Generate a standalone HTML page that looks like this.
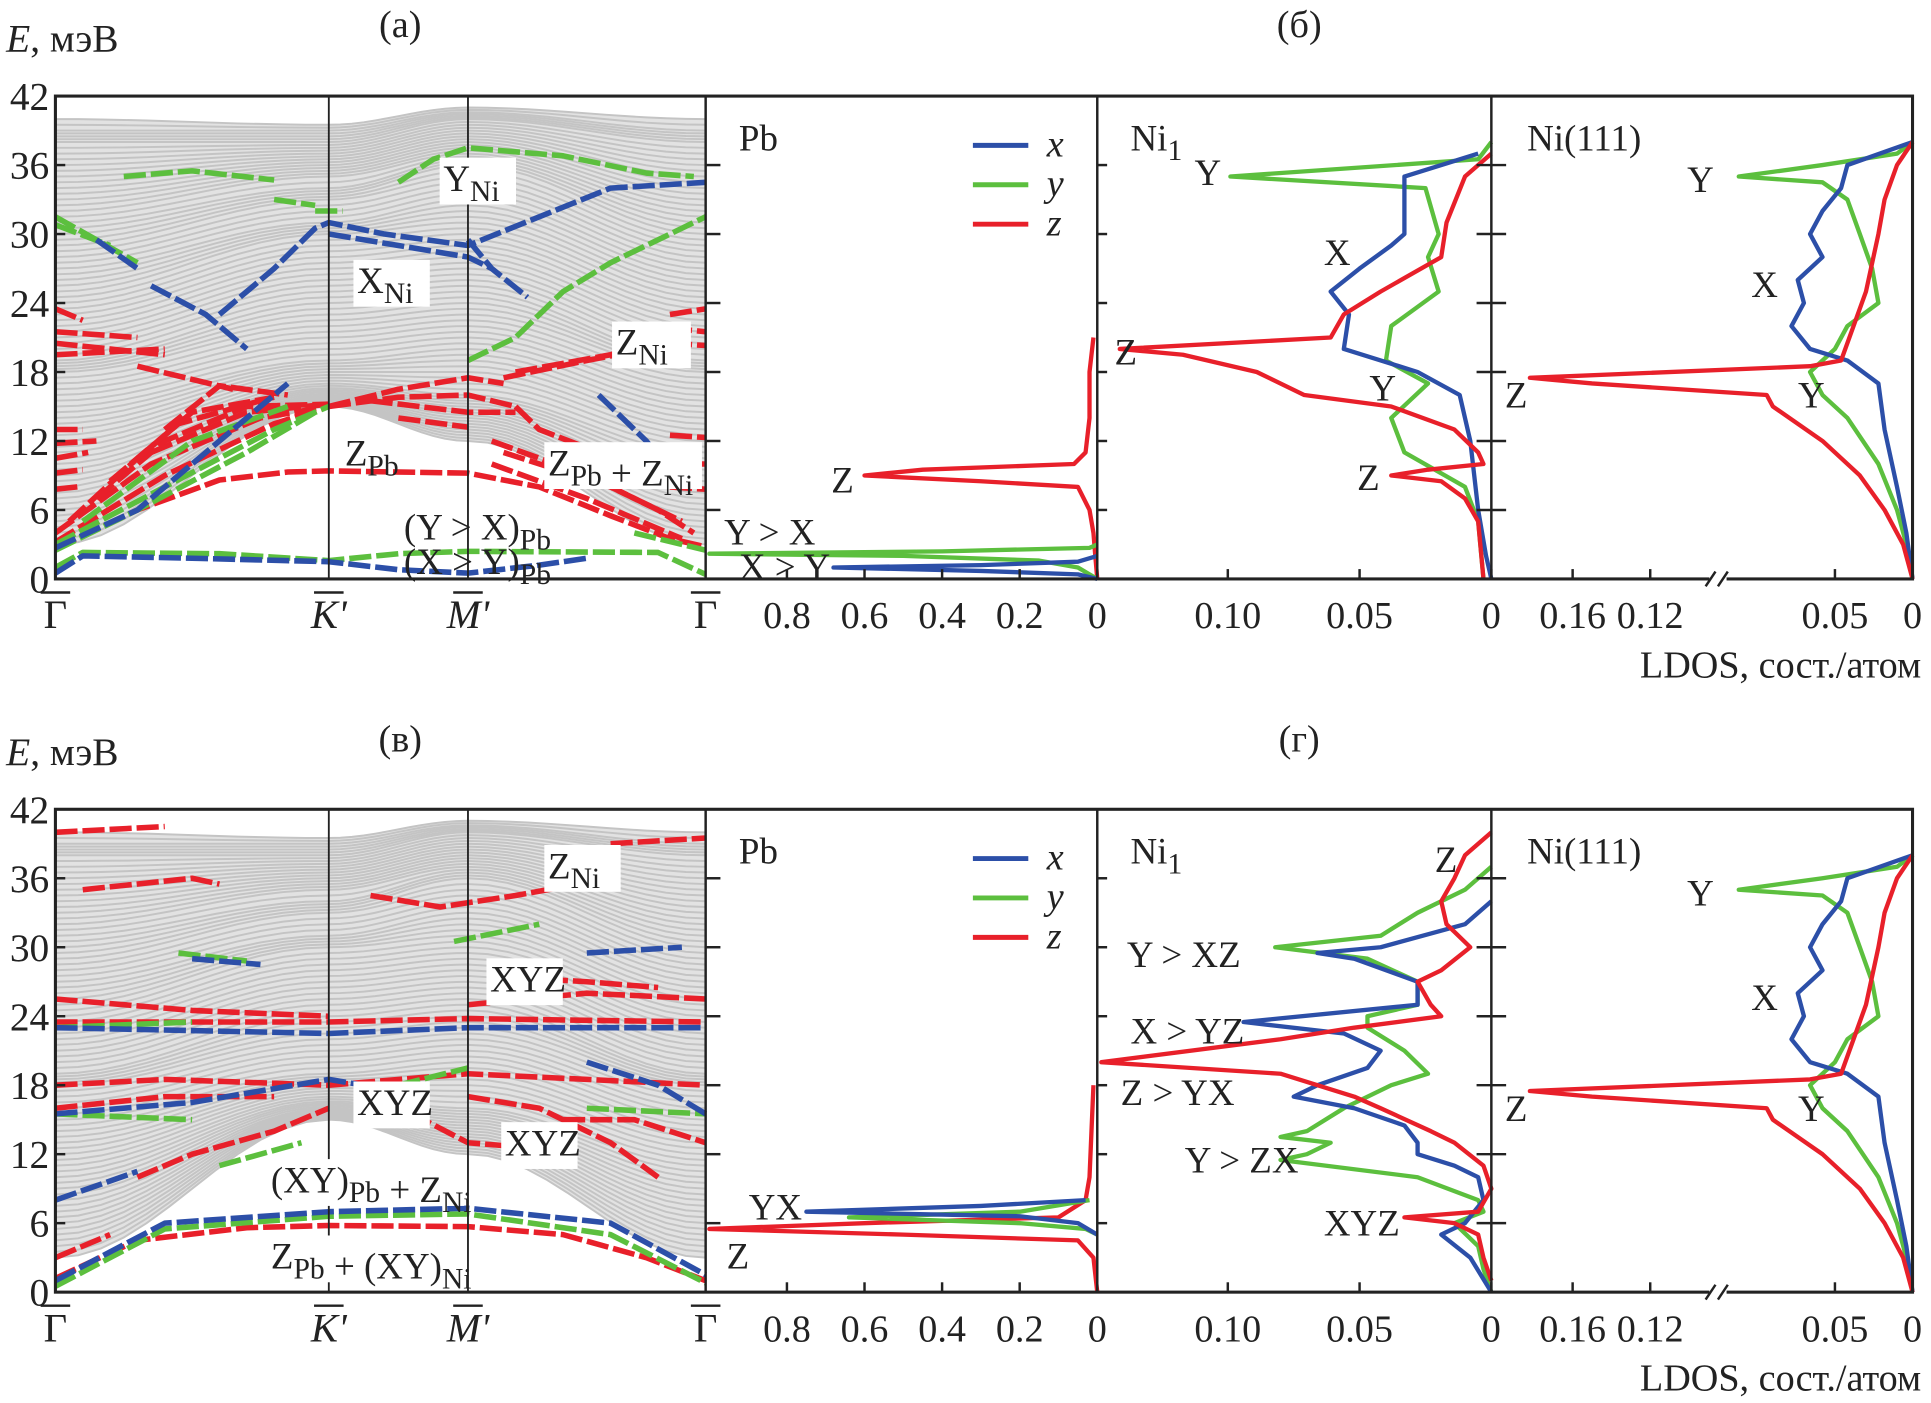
<!DOCTYPE html>
<html><head><meta charset="utf-8"><style>
html,body{margin:0;padding:0;background:#fff;}
svg{display:block;font-family:"Liberation Serif",serif;}
text{font-family:"Liberation Serif",serif;}
</style></head><body>
<svg id="fig" width="1931" height="1403" viewBox="0 0 1568 1139" preserveAspectRatio="none" xmlns="http://www.w3.org/2000/svg"></svg>
<script>
// ---- data ----
const eTicks = [0,6,12,18,24,30,36,42];
const bandsG = [3,4,5,6,7,8,9,10,11,12,13,14,15,16,17,18,18.5,19,20,21,22,23,24,25,26,27,28,29,30,31,32,33,34,35,36,37,38,38.5,39,40];
const bandsK = [15,15.2,15.4,15.6,15.8,16,16.3,16.6,17,17.5,18,18.5,19,20,21,22,23,24,25,26,27,28,29,30,30.5,31,32,33,33.5,34,35,35.5,36,36.5,37,37.5,38,38.5,39,39.5];
const bandsM = [12,12.5,13,13.5,14,14.5,15,15.5,16,17,18,19,20,21,22,23,24,25,26,27,28,29,30,31,32,33,34,35,36,36.5,37,37.5,38,38.5,39,39.5,40,40.3,40.6,41];

const redTop = [
 [[0,2.6],[0.3,6],[0.6,8.6],[0.85,9.3],[1,9.4],[2,9.2],[2.3,8],[2.6,5.5],[2.85,3.5],[3,2.8]],
 [[0,3.2],[0.4,9],[0.8,13.5],[1,15]],[[0,4],[0.35,10],[0.75,14],[1,15]],
 [[0.05,5],[0.3,10.5],[0.7,14.5],[1,15.2]],[[0.15,7],[0.4,12],[0.7,15],[1,15.2]],
 [[0.2,8.5],[0.45,13.5],[0.75,15.5]],[[0.3,10.5],[0.5,14.5],[0.8,15.8]],[[0.4,13],[0.6,16.8],[0.85,16]],
 [[0,13],[0.1,13]],[[0,11.8],[0.15,12]],[[0,10.5],[0.12,11]],[[0,9.2],[0.1,9.5]],[[0,7.8],[0.08,8]],
 [[0,23.5],[0.1,22.5]],[[0,21.5],[0.3,21]],[[0,20.5],[0.4,19.5]],[[0,19.5],[0.4,20]],[[0.3,18.5],[0.65,16.5]],
 [[1,15],[1.5,16.5],[2,17.5],[2.15,17]],[[1,15],[1.5,15.8],[2,16],[2.2,15]],[[1.3,15.5],[2,14.5],[2.2,14.5]],[[1.5,14],[2,13.2]],
 [[2.1,12],[2.5,9],[2.8,6],[2.95,4]],[[2.15,11],[2.6,8],[2.9,5]],[[2.1,10],[2.5,7],[2.9,3.5]],[[2.2,15],[2.3,13],[2.55,11],[2.8,8.5]],
 [[2.15,17.5],[2.5,19],[2.75,20]],[[2.2,18],[2.6,19.5],[2.75,20.5]],
 [[2.85,21.8],[3,21.5]],[[2.85,20.5],[3,20.3]],[[2.85,23],[3,23.5]],[[2.85,12.5],[3,12.3]],[[2.85,10],[3,10]],[[2.85,8],[3,7.8]]
];
const greenTop = [
 [[0,1],[0.1,2.3],[0.6,2.2],[1,1.6],[1.5,2.2],[2,2.4],[2.8,2.3],[3,0.4]],
 [[0,3],[0.4,8],[0.8,13],[1,15]],[[0.1,5],[0.5,12],[0.85,15]],[[0,2.5],[0.3,6],[0.7,11],[0.95,14.5]],
 [[0.25,35],[0.5,35.5],[0.8,34.7]],[[1.5,34.5],[1.75,36.5],[2,37.5],[2.4,36.8],[2.75,35.3],[2.95,35]],
 [[0,31.5],[0.15,29.5],[0.3,27.5]],[[0,30.8],[0.2,29]],
 [[2,19],[2.2,21],[2.4,25],[2.6,27.5],[2.85,30],[3,31.5]],
 [[0.95,32],[1.1,32]],[[0.8,33],[0.95,32.5]],[[2.7,4],[2.9,3],[3,2.5]]
];
const blueTop = [
 [[0,0.5],[0.1,2],[0.5,1.8],[1,1.5],[1.5,0.8],[2,0.5],[2.3,1.2],[2.5,1.8]],
 [[0,2.7],[0.3,6],[0.6,12],[0.85,17]],
 [[0.15,29.5],[0.3,27]],[[0.35,25.5],[0.55,23],[0.7,20]],
 [[0.6,23],[0.8,27],[0.95,30.5],[1,31],[1.4,30],[2,29],[2.3,31.5],[2.6,34],[3,34.5]],
 [[1,30],[1.5,29],[2,28],[2.1,27]],[[2,29.5],[2.1,27],[2.25,24.5]],[[2.55,16],[2.75,12],[2.9,8]]
];
const redBot = [
 [[0,1.2],[0.3,4.5],[0.7,5.6],[1,5.8],[2,5.7],[2.4,5],[2.75,3],[3,1]],
 [[0,18],[0.4,18.5],[1,18],[2,19],[2.5,18.5],[3,18]],
 [[0,23.5],[1,23.5],[2,23.8],[3,23.5]],
 [[0,25.5],[0.5,24.5],[1,24]],[[2,25],[2.5,26],[3,25.5]],[[2.1,27.5],[2.5,27],[2.8,26.5]],
 [[0,40],[0.4,40.5]],[[0.1,35],[0.5,36],[0.6,35.5]],[[1.3,34.5],[1.8,33.5],[2.2,34.5],[2.6,36]],[[2.6,39],[3,39.5]],
 [[0.3,10],[0.5,12],[0.8,14],[1,16]],[[1.2,15.5],[1.6,15.5],[2,13],[2.3,12.5]],[[2,17],[2.3,16],[2.6,13],[2.8,10]],
 [[0,16],[0.4,17],[0.8,17]],[[2.4,15],[2.7,15],[3,13]],[[0,3],[0.2,5]]
];
const blueBot = [
 [[0,1],[0.4,6],[1,7],[2,7.3],[2.6,6],[3,1.5]],
 [[0,23],[1,22.5],[2,23],[3,23]],
 [[0,15.5],[0.5,16.5],[1,18.5],[1.5,17.5]],[[0.5,29],[0.75,28.5]],[[2.5,29.5],[2.9,30]],[[0,8],[0.3,10.5]],[[2.5,20],[2.8,18],[3,15.5]]
];
const greenBot = [
 [[0,0.5],[0.4,5.5],[1,6.6],[2,6.8],[2.6,5],[3,0.8]],
 [[0.45,29.5],[0.7,28.8]],[[1.9,30.5],[2.3,32]],[[0,15.5],[0.5,15]],[[0.6,11],[0.9,13]],[[2.5,16],[3,15.5]],[[0,23],[0.5,23.5]],[[1.5,18],[2,19.5]]
];
// LDOS
const pbE_z = [21,18,14,11,10,9.5,9,8.5,8,6,4,2,0];
const pbV_z = [0.01,0.02,0.02,0.03,0.06,0.45,0.6,0.3,0.05,0.02,0.01,0.005,0];
const pbE_y = [3,2.7,2.4,2.2,2,1.6,1,0];
const pbV_y = [0,0.02,0.4,1.0,0.5,0.15,0.05,0];
const pbE_x = [2,1.5,1.2,1,0.7,0.4,0];
const pbV_x = [0,0.05,0.3,0.68,0.3,0.05,0];

const ni1E_y = [38,36.5,35,34,30,28,25,22,19,17,14,11,8,5,0];
const ni1V_y = [0,0.005,0.099,0.025,0.02,0.024,0.02,0.038,0.04,0.024,0.038,0.033,0.01,0.005,0.003];
const ni1E_x = [37,35,30,29,27,25,23,20,18,16,12,6,2,0];
const ni1V_x = [0.005,0.033,0.033,0.038,0.050,0.061,0.054,0.056,0.028,0.012,0.008,0.005,0.002,0];
const ni1E_z = [37,35,31,28,25,23,21,20,19.5,18,16,15,13,11,10,9.5,9,8.5,7,5,0];
const ni1V_z = [0,0.01,0.017,0.019,0.042,0.056,0.061,0.141,0.117,0.089,0.071,0.038,0.014,0.005,0.003,0.024,0.038,0.019,0.01,0.005,0.003];

const n111E_y = [38,37,36,35,34.5,33,30,27,24,22,20,18,16,14,10,6,3,0];
const n111V_y = [0,0.01,0.058,0.112,0.058,0.042,0.034,0.026,0.022,0.042,0.05,0.066,0.058,0.042,0.022,0.01,0.004,0];
const n111E_x = [38,36,34,32,30,28,26,24,22,20,19,17,13,8,4,0];
const n111V_x = [0,0.042,0.046,0.058,0.066,0.058,0.074,0.07,0.078,0.066,0.042,0.022,0.018,0.01,0.004,0];
const n111E_z = [38,36,33,30,25,22,19,18.5,17.5,17,16,15,12,9,6,3,0];
const n111V_z = [0,0.01,0.018,0.022,0.03,0.038,0.046,0.066,0.182,0.15,0.094,0.09,0.058,0.034,0.018,0.006,0];

const nbE_z = [40,38,36,34,32,30,28,27,25,24,23,22,20,19,17,16,14,13,11,9,7,6.5,6,5,3,1];
const nbV_z = [0,0.01,0.014,0.019,0.017,0.008,0.019,0.028,0.023,0.019,0.052,0.08,0.148,0.08,0.052,0.042,0.023,0.014,0.003,0,0.005,0.033,0.014,0.005,0.003,0];
const nbE_x = [34,32,30,29.5,29,27,25,23.5,22.5,21,19.5,18,17,16,14.5,13,12,11,10,8,6,5,3,0];
const nbV_x = [0,0.01,0.042,0.066,0.052,0.028,0.028,0.094,0.056,0.042,0.047,0.066,0.075,0.052,0.033,0.028,0.028,0.014,0.005,0.003,0.01,0.019,0.008,0];
const nbE_y = [37,35,33,31,30,29,27,25,24,23,21,19,18,16,14,13.5,13,12,11.5,10,8,7,6,4,2,0];
const nbV_y = [0,0.01,0.028,0.042,0.082,0.047,0.028,0.028,0.047,0.047,0.033,0.024,0.038,0.056,0.07,0.08,0.061,0.07,0.08,0.028,0.005,0.003,0.014,0.005,0.003,0];

const pbbE_z = [18,14,10,8,6.5,6,5.5,5,4.5,3,0];
const pbbV_z = [0.01,0.015,0.02,0.03,0.1,0.6,1.0,0.5,0.05,0.01,0];
const pbbE_y = [8,7,6.5,6,5.5,5];
const pbbV_y = [0.02,0.2,0.64,0.2,0.03,0];
const pbbE_x = [8,7.5,7,6.6,6,5];
const pbbV_x = [0.03,0.3,0.75,0.2,0.05,0];

// ---- helpers ----
const svg = document.getElementById('fig');
const NS = 'http://www.w3.org/2000/svg';
function mk(tag, attrs, parent){const e=document.createElementNS(NS,tag);for(const k in attrs)e.setAttribute(k,attrs[k]);(parent||svg).appendChild(e);return e;}
const rows = [{top:78,bot:470},{top:657,bot:1049}];
function ey(r,E){return rows[r].bot-(E/42)*(rows[r].bot-rows[r].top);}
function kx(k){if(k<=1)return 45+k*222;if(k<=2)return 267+(k-1)*113;return 380+(k-2)*193;}
const pbX=v=>891-v*315;
const ni1X=v=>1211-v*2140;
const n111X=v=>v<0.115?1553-v*1260:1340-(v-0.12)*1575;
const COL={red:'#e8202a',green:'#5cbf3e',blue:'#2c4fa8',gray:'#c4c4c4'};
function cosInterp(a,b,t){const s=(1-Math.cos(Math.PI*t))/2;return a+(b-a)*s;}
function bandPts(r,nodes){const pts=[];for(let s=0;s<3;s++){for(let j=0;j<=12;j++){const t=j/12;pts.push([kx(s+t),ey(r,cosInterp(nodes[s],nodes[s+1],t))]);}}return pts;}

function drawRow(r, red, green, blue){
  const g=mk('g',{});
  
  
  const n=bandsG.length;
  const lo=bandPts(r,[bandsG[0],bandsK[0],bandsM[0],bandsG[0]]);
  const hi=bandPts(r,[bandsG[n-1],bandsK[n-1],bandsM[n-1],bandsG[n-1]]);
  const env=lo.concat(hi.slice().reverse()).map(p=>p[0].toFixed(1)+','+p[1].toFixed(1)).join(' ');
  const bg=mk('polygon',{points:env,fill:'#e2e2e2'},g);
  
  
  for(let i=0;i<n;i++){
    const sets=[[bandsG[i],bandsK[i],bandsM[i],bandsG[i]]];
    if(i<n-1)sets.push([(bandsG[i]+bandsG[i+1])/2,(bandsK[i]+bandsK[i+1])/2,(bandsM[i]+bandsM[i+1])/2,(bandsG[i]+bandsG[i+1])/2]);
    sets.forEach(nodes=>{
      const pts=bandPts(r,nodes).map(p=>p[0].toFixed(1)+','+p[1].toFixed(1)).join(' ');
      const p=mk('polyline',{points:pts,fill:'none',stroke:COL.gray,'stroke-width':1.6},g);
      
      
    });
  }
  [[red,'red'],[green,'green'],[blue,'blue']].forEach(([set,c])=>{
    set.forEach(line=>{
      const pts=line.map(p=>kx(p[0]).toFixed(1)+','+ey(r,p[1]).toFixed(1)).join(' ');
      const p=mk('polyline',{points:pts,fill:'none',stroke:COL[c],'stroke-width':4.5,'stroke-dasharray':'18 4','stroke-linejoin':'round'},g);
      
      
    });
  });
}
function ldos(r, Es, Vs, fx, c, name){
  const pts=Es.map((E,i)=>fx(Vs[i]).toFixed(1)+','+ey(r,E).toFixed(1)).join(' ');
  const p=mk('polyline',{points:pts,fill:'none',stroke:COL[c],'stroke-width':3.5,'stroke-linejoin':'round'});
  
  
}
function txt(x,y,s,opts){
  const t=mk('text',Object.assign({x:x,y:y,'font-size':30,fill:'#222','font-family':'Liberation Serif, serif'},opts||{}));
  t.innerHTML=s;return t;
}
function label(x,y,html,name,w){
  if(w){const b=mk('rect',{x:x-3,y:y-27,width:w,height:38,fill:'#fff'});}
  const t=txt(x,y,html);
  
  
}
const sub=s=>'<tspan dy="8" font-size="24">'+s+'</tspan><tspan dy="-8"></tspan>';

drawRow(0, redTop, greenTop, blueTop);
drawRow(1, redBot, greenBot, blueBot);

ldos(0,pbE_z,pbV_z,pbX,'red','pb-ldos-z');ldos(0,pbE_y,pbV_y,pbX,'green','pb-ldos-y');ldos(0,pbE_x,pbV_x,pbX,'blue','pb-ldos-x');
ldos(0,ni1E_y,ni1V_y,ni1X,'green','ni1-ldos-y');ldos(0,ni1E_x,ni1V_x,ni1X,'blue','ni1-ldos-x');ldos(0,ni1E_z,ni1V_z,ni1X,'red','ni1-ldos-z');
ldos(0,n111E_y,n111V_y,n111X,'green','ni111-ldos-y');ldos(0,n111E_x,n111V_x,n111X,'blue','ni111-ldos-x');ldos(0,n111E_z,n111V_z,n111X,'red','ni111-ldos-z');
ldos(1,pbbE_z,pbbV_z,pbX,'red','pb-ldos-z-bottom');ldos(1,pbbE_y,pbbV_y,pbX,'green','pb-ldos-y-bottom');ldos(1,pbbE_x,pbbV_x,pbX,'blue','pb-ldos-x-bottom');
ldos(1,nbE_y,nbV_y,ni1X,'green','ni1-ldos-y-bottom');ldos(1,nbE_x,nbV_x,ni1X,'blue','ni1-ldos-x-bottom');ldos(1,nbE_z,nbV_z,ni1X,'red','ni1-ldos-z-bottom');
ldos(1,n111E_y,n111V_y,n111X,'green','ni111-ldos-y-bottom');ldos(1,n111E_x,n111V_x,n111X,'blue','ni111-ldos-x-bottom');ldos(1,n111E_z,n111V_z,n111X,'red','ni111-ldos-z-bottom');

[0,1].forEach(r=>{
  const T=rows[r].top,B=rows[r].bot;
  const f=mk('rect',{x:45,y:T,width:1508,height:B-T,fill:'none',stroke:'#222','stroke-width':2.5});
  
  [573,891,1211].forEach(x=>{mk('line',{x1:x,y1:T,x2:x,y2:B,stroke:'#222','stroke-width':2});});
  [1,2].forEach(k=>{mk('line',{x1:kx(k),y1:T,x2:kx(k),y2:B,stroke:'#222','stroke-width':1.5});});
  eTicks.forEach(E=>{
    const y=ey(r,E);
    const t=txt(40,y+11,String(E),{'text-anchor':'end','font-size':32});
    
    if(E>0&&E<42){
      mk('line',{x1:45,y1:y,x2:53,y2:y,stroke:'#222','stroke-width':2});
      mk('line',{x1:573,y1:y,x2:585,y2:y,stroke:'#222','stroke-width':2});
      mk('line',{x1:891,y1:y,x2:899,y2:y,stroke:'#222','stroke-width':2});
      mk('line',{x1:1199,y1:y,x2:1223,y2:y,stroke:'#222','stroke-width':2});
    }
  });
  [['Γ',kx(0),''],['K\'',kx(1),'italic'],['M\'',kx(2),'italic'],['Γ',kx(3),'']].forEach(([s,x,st])=>{
    const t=txt(x,B+40,s,{'text-anchor':'middle','font-size':33,'font-style':st||'normal'});
    
    mk('line',{x1:x-12,y1:B+11,x2:x+12,y2:B+11,stroke:'#222','stroke-width':2});
  });
  [[0.8,'0.8'],[0.6,'0.6'],[0.4,'0.4'],[0.2,'0.2'],[0,'0']].forEach(([v,s])=>{
    const t=txt(pbX(v),B+40,s,{'text-anchor':'middle','font-size':31});
    mk('line',{x1:pbX(v),y1:B,x2:pbX(v),y2:B-8,stroke:'#222','stroke-width':2});});
  [[0.10,'0.10'],[0.05,'0.05'],[0,'0']].forEach(([v,s])=>{
    const t=txt(ni1X(v),B+40,s,{'text-anchor':'middle','font-size':31});
    mk('line',{x1:ni1X(v),y1:B,x2:ni1X(v),y2:B-8,stroke:'#222','stroke-width':2});});
  [[0.16,'0.16'],[0.12,'0.12'],[0.05,'0.05'],[0,'0']].forEach(([v,s])=>{
    const t=txt(n111X(v),B+40,s,{'text-anchor':'middle','font-size':31});
    mk('line',{x1:n111X(v),y1:B,x2:n111X(v),y2:B-8,stroke:'#222','stroke-width':2});});
  mk('rect',{x:1388,y:B-6,width:14,height:12,fill:'#fff'});
  mk('line',{x1:1385,y1:B+6,x2:1393,y2:B-6,stroke:'#222','stroke-width':2});
  mk('line',{x1:1395,y1:B+6,x2:1403,y2:B-6,stroke:'#222','stroke-width':2});
  const ld=txt(1560,B+80,'LDOS, сост./атом',{'text-anchor':'end','font-size':31});
  
  const et=txt(5,r===0?42:621,'<tspan font-style="italic">E</tspan>, мэВ',{'font-size':32});
  
  label(600,T+44,'Pb','pb-panel-title');
  label(918,T+44,'Ni'+sub('1'),'ni1-panel-title');
  label(1240,T+44,'Ni(111)','ni111-panel-title');
  [['x','blue',118],['y','green',150],['z','red',182]].forEach(([s,c,y])=>{
    const yy=y+(T-78);
    const l=mk('line',{x1:790,y1:yy,x2:835,y2:yy,stroke:COL[c],'stroke-width':4});
    
    const t=txt(850,yy+9,s,{'font-style':'italic','font-size':31});
    
  });
});
[['(а)',325,30],['(б)',1055,30],['(в)',325,610],['(г)',1055,610]].forEach(([s,x,y])=>{
  const t=txt(x,y,s,{'text-anchor':'middle','font-size':31});
});
label(360,155,'Y'+sub('Ni'),'label-y-ni',62);
label(290,238,'X'+sub('Ni'),'label-x-ni',62);
label(500,288,'Z'+sub('Ni'),'label-z-ni',64);
label(280,378,'Z'+sub('Pb'),'label-z-pb');
label(445,386,'Z'+sub('Pb')+' + Z'+sub('Ni'),'label-zpb-zni',128);
label(328,438,'(Y &gt; X)'+sub('Pb'),'label-y-gt-x-pb');
label(328,466,'(X &gt; Y)'+sub('Pb'),'label-x-gt-y-pb');
label(675,400,'Z','pb-label-z');label(588,442,'Y &gt; X','pb-label-yx');label(600,470,'X &gt; Y','pb-label-xy');
label(970,150,'Y','ni1-label-y');label(1075,215,'X','ni1-label-x');label(905,296,'Z','ni1-label-z');label(1112,325,'Y','ni1-label-y2');label(1102,398,'Z','ni1-label-z2');
label(445,713,'Z'+sub('Ni'),'label-z-ni-b',62);
label(398,805,'XYZ','label-xyz-1',62);
label(290,905,'XYZ','label-xyz-2',62);
label(410,938,'XYZ','label-xyz-3',62);
label(220,968,'(XY)'+sub('Pb')+' + Z'+sub('Ni'),'label-xypb-zni',160);
label(220,1030,'Z'+sub('Pb')+' + (XY)'+sub('Ni'),'label-zpb-xyni',160);
label(608,990,'YX','pb-label-yx-b');label(590,1030,'Z','pb-label-z-b');
label(1165,708,'Z','ni1b-label-z');label(915,785,'Y &gt; XZ','ni1b-label-yxz');label(918,847,'X &gt; YZ','ni1b-label-xyz');
label(910,897,'Z &gt; YX','ni1b-label-zyx');label(962,952,'Y &gt; ZX','ni1b-label-yzx');label(1075,1003,'XYZ','ni1b-label-xyz2');
[0,579].forEach(o=>{
  label(1370,156+o,'Y','ni111-label-y');label(1422,241+o,'X','ni111-label-x');label(1222,331+o,'Z','ni111-label-z');label(1460,331+o,'Y','ni111-label-y2');
});
</script>
</body></html>
